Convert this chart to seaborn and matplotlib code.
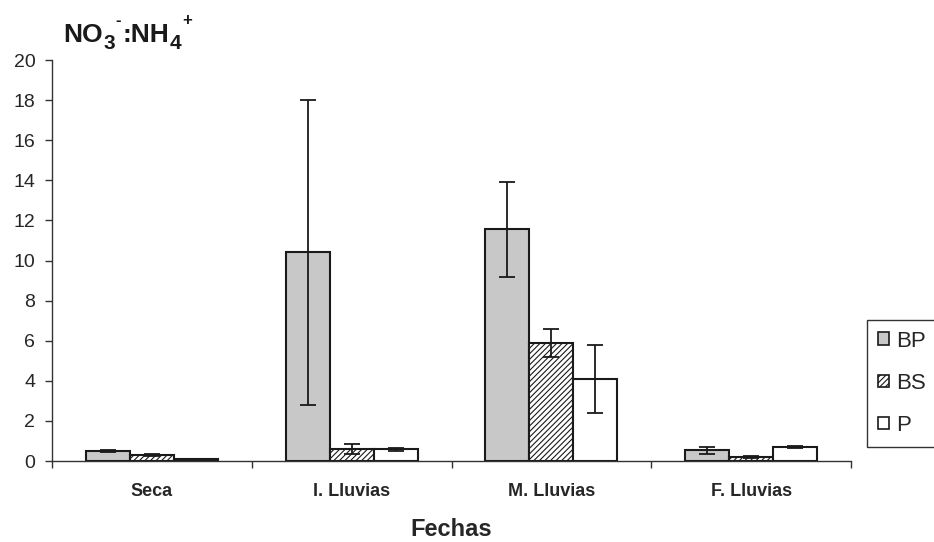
import matplotlib
matplotlib.use("Agg")
import matplotlib.pyplot as plt
import seaborn as sns
import pandas as pd
import numpy as np

categories = ["Seca", "I. Lluvias", "M. Lluvias", "F. Lluvias"]
series = ["BP", "BS", "P"]
bp_vals = [0.5, 10.4, 11.55, 0.53]
bs_vals = [0.3, 0.58, 5.9, 0.2]
p_vals = [0.1, 0.58, 4.1, 0.71]
bp_err = [0.06, 7.6, 2.35, 0.18]
bs_err = [0.03, 0.25, 0.7, 0.06]
p_err = [0.02, 0.06, 1.7, 0.06]
yticks = list(range(0, 21, 2))
title_parts = [("NO", "main"), ("3", "sub"), ("-", "sup"), (":NH", "main"),
               ("4", "sub"), ("+", "sup")]

sns.set_theme(style="white")
plt.rcParams["font.family"] = ["Liberation Sans", "DejaVu Sans"]
plt.rcParams["hatch.color"] = "#333333"
plt.rcParams["hatch.linewidth"] = 0.8

W, H = 934, 542

df = pd.DataFrame({
    "Fecha": categories * 3,
    "Serie": ["BP"] * 4 + ["BS"] * 4 + ["P"] * 4,
    "Valor": bp_vals + bs_vals + p_vals,
})
errs = {"BP": bp_err, "BS": bs_err, "P": p_err}
fills = {"BP": "#c8c8c8", "BS": "white", "P": "white"}
hatches = {"BP": "", "BS": "//////", "P": ""}

fig = plt.figure(figsize=(W / 100, H / 100), dpi=100)
ax = fig.add_axes([52 / W, 1 - 461 / H, (851 - 52) / W, (461 - 60) / H])

sns.barplot(data=df, x="Fecha", y="Valor", hue="Serie", order=categories,
            hue_order=series, errorbar=None, width=0.66, ax=ax,
            palette=[fills[s] for s in series], edgecolor="#1a1a1a",
            linewidth=1.5, legend=False, saturation=1)

handles = []
for cont, s in zip(ax.containers, series):
    xs = []
    ys = []
    for bar in cont.patches:
        bar.set_facecolor(fills[s])
        bar.set_hatch(hatches[s])
        bar.set_edgecolor("#1a1a1a")
        xs.append(bar.get_x() + bar.get_width() / 2)
        ys.append(bar.get_height())
    ax.errorbar(xs, ys, yerr=errs[s], fmt="none", ecolor="#1a1a1a",
                elinewidth=1.3, capsize=6, capthick=1.3, zorder=5)
    handles.append(plt.Rectangle((0, 0), 1, 1, facecolor=fills[s],
                                 hatch=hatches[s], edgecolor="#1a1a1a", linewidth=1.2))

ax.set_ylim(0, 20)
ax.set_xlim(-0.5, 3.5)
ax.set_yticks(yticks)
ax.set_yticklabels([str(t) for t in yticks], fontsize=14)
ax.set_xticks(range(4))
ax.set_xticklabels(categories, fontsize=13, fontweight="bold")
ax.set_xticks([-0.5, 0.5, 1.5, 2.5, 3.5], minor=True)
ax.tick_params(axis="x", which="major", length=0, pad=16)
ax.tick_params(axis="x", which="minor", length=5, width=1, color="#333333", direction="out", bottom=True)
ax.tick_params(axis="y", length=5, width=1, color="#333333", direction="out", left=True, pad=7)
for side in ["top", "right"]:
    ax.spines[side].set_visible(False)
for side in ["left", "bottom"]:
    ax.spines[side].set_color("#333333")
    ax.spines[side].set_linewidth(1)
ax.set_xlabel("Fechas", fontsize=17, fontweight="bold", labelpad=13)
ax.set_ylabel("")
ax.grid(False)

# Title built piece by piece (subscripts / superscripts)
renderer = fig.canvas.get_renderer()
x_px = 63.0
base_y = 42.0
styles = {
    "main": dict(size=19, dy=0.0, va="baseline"),
    "sub": dict(size=15, dy=7.0, va="baseline"),
    "sup": dict(size=12, dy=-21.0, va="center"),
}
for txt, kind in title_parts:
    st = styles[kind]
    t = fig.text(x_px / W, 1 - (base_y + st["dy"]) / H, txt, fontsize=st["size"],
                 fontweight="bold", ha="left", va=st["va"], color="#1a1a1a")
    bb = t.get_window_extent(renderer=renderer)
    x_px = bb.x1 + (1.0 if kind != "main" else 0.5)

fig.legend(handles, series, loc="upper left",
           bbox_to_anchor=(867 / W, 1 - 320 / H), fontsize=16,
           frameon=True, fancybox=False, edgecolor="#333333", framealpha=1,
           handlelength=0.5, handleheight=0.5, handletextpad=0.35,
           labelspacing=0.95, borderpad=0.48, borderaxespad=0)

fig.savefig("out.png", dpi=100)
